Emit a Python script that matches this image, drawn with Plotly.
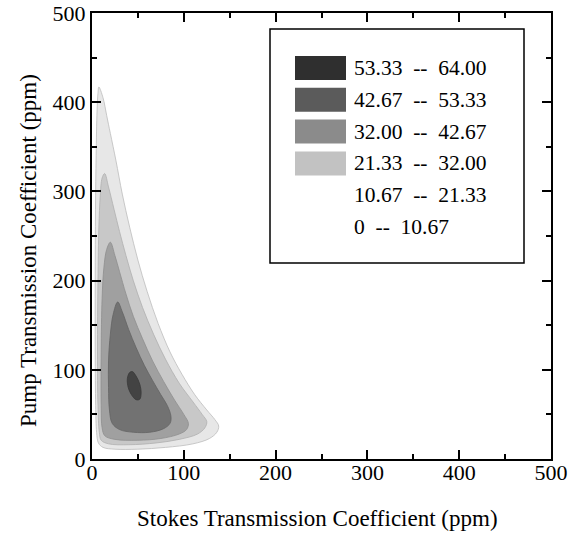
import plotly.graph_objects as go

# ---------------- data ----------------
level_bounds = [0.0, 10.67, 21.33, 32.00, 42.67, 53.33, 64.00]

# Closed iso-lines (Stokes x, Pump y) in ppm, outermost first
iso_1067_x = [7.5, 12, 16, 20, 26, 33, 41, 50, 60, 72, 85, 98, 112, 125, 134, 138,
              136, 128, 110, 80, 50, 25, 12, 7, 5, 4, 3.5, 3.5, 3.8, 4.5, 5.5, 6.5, 7.5]
iso_1067_y = [417, 405, 385, 365, 335, 297, 260, 223, 188, 152, 120, 95, 72, 55, 44, 37,
              30, 23, 17, 13, 11, 11, 13, 18, 30, 60, 120, 200, 280, 340, 390, 410, 417]

iso_2133_x = [13.8, 18, 24, 30, 37, 45, 55, 67, 80, 95, 110, 120, 125,
              123, 115, 95, 70, 40, 18, 10, 8, 6.5, 6, 6.5, 7.5, 9, 11, 13.8]
iso_2133_y = [320, 305, 280, 255, 228, 200, 170, 140, 112, 85, 64, 50, 42,
              35, 28, 22, 18, 16, 17, 21, 30, 60, 120, 200, 260, 295, 315, 320]

iso_3200_x = [20, 25, 30, 37, 45, 55, 66, 78, 90, 100, 105,
              103, 95, 75, 50, 25, 14, 11, 10, 10, 11, 13, 16, 20]
iso_3200_y = [243, 228, 210, 185, 160, 135, 110, 87, 66, 50, 40,
              33, 28, 23, 21, 22, 26, 35, 60, 120, 180, 215, 235, 243]

iso_4267_x = [28, 33, 40, 48, 57, 66, 75, 82, 86,
              85, 78, 63, 45, 30, 22, 19, 18, 18, 20, 23, 28]
iso_4267_y = [176, 165, 145, 125, 105, 88, 72, 60, 48,
              40, 34, 30, 30, 33, 40, 55, 80, 110, 140, 162, 176]

iso_5333_x = [41, 38.5, 39.5, 43, 48, 52, 53.5, 52, 48, 44, 41]
iso_5333_y = [97, 90, 80, 72, 66.5, 67, 74, 84, 93, 98, 97]

legend_labels = ["53.33\u00a0\u00a0--\u00a0\u00a064.00",
                 "42.67\u00a0\u00a0--\u00a0\u00a053.33",
                 "32.00\u00a0\u00a0--\u00a0\u00a042.67",
                 "21.33\u00a0\u00a0--\u00a0\u00a032.00",
                 "10.67\u00a0\u00a0--\u00a0\u00a021.33",
                 "0\u00a0\u00a0--\u00a0\u00a010.67"]

x_ticks = [0, 100, 200, 300, 400, 500]
y_ticks = [0, 100, 200, 300, 400, 500]

# ---------------- styles ----------------
fill_colors = ["#e7e7e7", "#c8c8c8", "#a0a0a0", "#727272", "#434343"]
edge_colors = ["#bdbdbd", "#b0b0b0", "#8e8e8e", "#636363", "#383838"]
swatch_colors = ["#2f2f2f", "#5b5b5b", "#8b8b8b", "#c2c2c2", None, None]
FONT = "Liberation Serif"

fig = go.Figure()
iso_lines = [(iso_1067_x, iso_1067_y), (iso_2133_x, iso_2133_y), (iso_3200_x, iso_3200_y),
             (iso_4267_x, iso_4267_y), (iso_5333_x, iso_5333_y)]
for i, (xs, ys) in enumerate(iso_lines):
    fig.add_trace(go.Scatter(
        x=xs, y=ys, mode="lines", fill="toself",
        fillcolor=fill_colors[i],
        line=dict(color=edge_colors[i], width=0.8, shape="spline", smoothing=1.0),
        name=f"{level_bounds[i+1]:.2f} -- {level_bounds[i+2]:.2f}",
        showlegend=False, hoverinfo="skip"))

axis_common = dict(
    range=[0, 500], tickmode="array", showgrid=False, zeroline=False, automargin=False,
    ticks="inside", ticklen=9, tickwidth=1.6, tickcolor="black",
    showline=True, linewidth=2, linecolor="black", mirror="ticks",
    minor=dict(dtick=50, tick0=0, ticks="inside", ticklen=5, tickwidth=1.6, tickcolor="black"),
    tickfont=dict(family=FONT, size=22, color="black"),
)
fig.update_xaxes(**axis_common, tickvals=x_ticks, ticktext=[str(v) for v in x_ticks],
                 ticklabelstandoff=-7)
fig.update_yaxes(**axis_common, tickvals=y_ticks, ticktext=[str(v) for v in y_ticks])

# ---------------- hand-built legend box ----------------
W, H = 579, 533
L, R, T, B = 92, 28, 13, 74
pw, ph = W - L - R, H - T - B


def px_x(px):
    return (px - L) / pw


def px_y(py):
    return (H - B - py) / ph


shapes = [dict(type="rect", xref="paper", yref="paper",
               x0=px_x(270), x1=px_x(524), y0=px_y(263), y1=px_y(29),
               line=dict(color="black", width=1.5), fillcolor="white", layer="above")]
annotations = []
row0, row_step = 68, 31.8
for k, lab in enumerate(legend_labels):
    cy = row0 + k * row_step
    if swatch_colors[k] is not None:
        shapes.append(dict(type="rect", xref="paper", yref="paper",
                           x0=px_x(295), x1=px_x(346), y0=px_y(cy + 12), y1=px_y(cy - 12),
                           line=dict(width=0), fillcolor=swatch_colors[k], layer="above"))
    annotations.append(dict(xref="paper", yref="paper", x=px_x(352), y=px_y(cy),
                            xanchor="left", yanchor="middle", showarrow=False, text=lab,
                            font=dict(family=FONT, size=21.5, color="black")))

annotations.append(dict(xref="paper", yref="paper", x=px_x(317), y=px_y(518),
                        xanchor="center", yanchor="middle", showarrow=False,
                        text="Stokes Transmission Coefficient (ppm)",
                        font=dict(family=FONT, size=23, color="black")))
annotations.append(dict(xref="paper", yref="paper", x=px_x(28), y=px_y(251),
                        xanchor="center", yanchor="middle", showarrow=False, textangle=-90,
                        text="Pump Transmission Coefficient (ppm)",
                        font=dict(family=FONT, size=23, color="black")))

fig.update_layout(
    width=W, height=H, margin=dict(l=L, r=R, t=T, b=B, pad=0),
    plot_bgcolor="white", paper_bgcolor="white",
    showlegend=False, shapes=shapes, annotations=annotations,
)

fig.write_html("out.html", config={"displayModeBar": False},
               post_script="document.body.style.margin='0';")
